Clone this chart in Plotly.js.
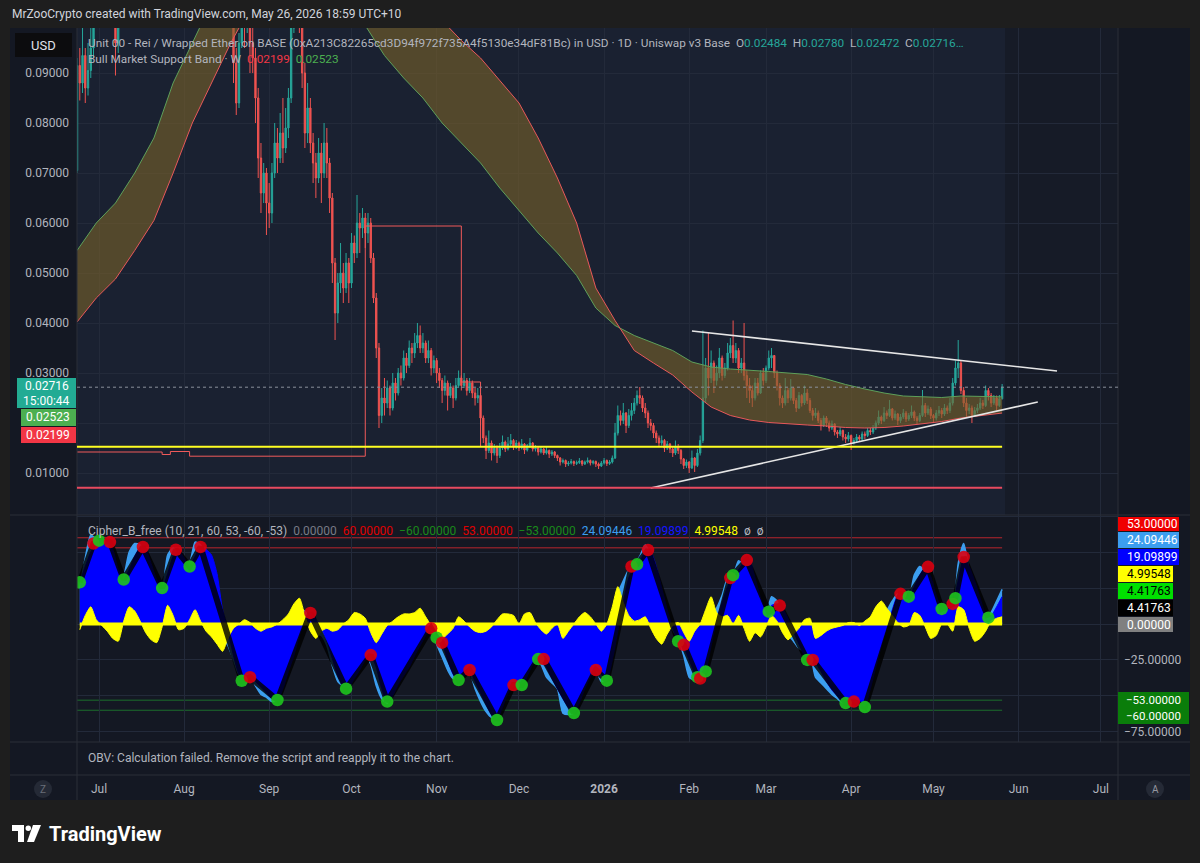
<!DOCTYPE html>
<html><head><meta charset="utf-8">
<script src="https://cdn.plot.ly/plotly-3.0.1.min.js"></script>
<style>html,body{margin:0;padding:0;background:#1e1e1e;overflow:hidden}#chart{width:1200px;height:863px}</style>
</head><body><div id="chart"></div>
<script>
// ---------------- DATA ----------------
const candleStart = '2025-06-23';
const firstOpen = 0.0705;
const closes = [
.0915,.0880,.0935,.0870,.0905,.0950,.1020,
.1080,.1150,.1120,.1200,.1180,.1100,.1150,
.0960,.1060,.1180,.1250,.1300,.1260,.1350,
.1400,.1450,.1380,.1500,.1550,.1480,.1600,
.1650,.1580,.1700,.1750,.1680,.1620,.1700,
.1640,.1580,.1500,.1550,.1480,.1420,.1460,
.1400,.1350,.1380,.1300,.1250,.1280,.1220,
.1180,.1200,.1150,.1100,.1130,.1080,.1100,
.1060,.0920,.0840,.0960,.1050,.1000,.1040,
.0960,.0930,.0850,.0730,.0660,.0700,.0640,
.0620,.0700,.0760,.0730,.0780,.0750,.0790,
.0850,.0990,.1050,.1080,.1040,.0900,.0780,
.0830,.0760,.0720,.0690,.0740,.0700,.0760,
.0720,.0650,.0520,.0420,.0480,.0500,.0470,
.0520,.0480,.0560,.0540,.0600,.0590,.0610,
.0580,.0600,.0530,.0450,.0350,.0215,.0250,
.0240,.0270,.0230,.0280,.0260,.0300,.0290,
.0330,.0315,.0350,.0340,.0360,.0375,.0350,
.0360,.0330,.0345,.0310,.0325,.0300,.0285,
.0265,.0280,.0255,.0270,.0250,.0275,.0290,
.0275,.0285,.0265,.0280,.0260,.0250,.0255,
.0210,.0170,.0145,.0160,.0140,.0150,.0135,
.0150,.0162,.0148,.0158,.0165,.0152,.0160,
.0150,.0158,.0146,.0155,.0160,.0148,.0150,
.0142,.0148,.0140,.0145,.0138,.0142,.0135,
.0130,.0122,.0125,.0118,.0120,.0123,.0119,
.0121,.0124,.0118,.0122,.0125,.0120,.0123,
.0118,.0114,.0120,.0125,.0119,.0122,.0130,
.0180,.0215,.0205,.0220,.0195,.0215,.0225,
.0240,.0255,.0250,.0230,.0220,.0200,.0195,
.0180,.0170,.0160,.0165,.0150,.0158,.0148,
.0140,.0152,.0145,.0128,.0115,.0122,.0110,
.0130,.0115,.0140,.0165,.0250,.0310,.0290,
.0320,.0285,.0300,.0330,.0295,.0310,.0340,
.0355,.0330,.0345,.0310,.0320,.0295,.0275,
.0265,.0250,.0280,.0260,.0300,.0285,.0310,
.0330,.0335,.0300,.0275,.0250,.0240,.0265,
.0250,.0270,.0245,.0230,.0255,.0240,.0260,
.0245,.0225,.0215,.0220,.0205,.0195,.0210,
.0200,.0190,.0198,.0182,.0178,.0185,.0172,
.0168,.0175,.0160,.0165,.0172,.0168,.0178,
.0175,.0185,.0182,.0190,.0200,.0212,.0205,
.0220,.0215,.0228,.0210,.0218,.0205,.0212,
.0220,.0208,.0215,.0222,.0210,.0205,.0215,
.0235,.0220,.0228,.0215,.0210,.0220,.0225,
.0218,.0230,.0225,.0240,.0280,.0310,.0320,
.0265,.0240,.0225,.0230,.0215,.0225,.0230,
.0240,.0235,.0265,.0255,.0240,.0250,.0235,
.02484,.02716];
const highs = [
.0930,.0950,.0990,.0950,.0960,.1010,.1080,
.1120,.1210,.1190,.1250,.1240,.1190,.1190,
.1160,.1100,.1210,.1290,.1340,.1330,.1380,
.1450,.1500,.1480,.1540,.1600,.1580,.1650,
.1700,.1680,.1750,.1800,.1780,.1720,.1740,
.1720,.1660,.1600,.1590,.1570,.1500,.1510,
.1480,.1420,.1410,.1390,.1310,.1320,.1300,
.1240,.1250,.1220,.1170,.1160,.1140,.1130,
.1120,.1080,.0950,.0980,.1080,.1070,.1070,
.1060,.0990,.0950,.0870,.0760,.0720,.0710,
.0680,.0720,.0800,.0790,.0820,.0850,.0830,
.0870,.1050,.1100,.1120,.1100,.1060,.0920,
.0880,.0850,.0780,.0740,.0770,.0760,.0800,
.0790,.0730,.0660,.0530,.0500,.0560,.0520,
.0540,.0530,.0580,.0575,.0656,.0620,.0630,
.0620,.0620,.0610,.0540,.0460,.0360,.0270,
.0290,.0285,.0275,.0300,.0290,.0310,.0315,
.0345,.0340,.0365,.0360,.0380,.0400,.0395,
.0380,.0365,.0365,.0350,.0335,.0330,.0310,
.0290,.0295,.0285,.0280,.0275,.0290,.0305,
.0295,.0300,.0290,.0290,.0285,.0270,.0270,
.0260,.0215,.0175,.0185,.0165,.0158,.0155,
.0160,.0175,.0165,.0172,.0178,.0168,.0166,
.0163,.0168,.0160,.0158,.0170,.0162,.0156,
.0152,.0153,.0150,.0152,.0147,.0146,.0144,
.0137,.0132,.0129,.0127,.0124,.0128,.0125,
.0125,.0130,.0126,.0125,.0131,.0127,.0126,
.0125,.0121,.0124,.0130,.0127,.0126,.0135,
.0200,.0235,.0225,.0240,.0222,.0228,.0240,
.0250,.0265,.0272,.0255,.0240,.0225,.0208,
.0200,.0185,.0175,.0175,.0168,.0164,.0160,
.0152,.0165,.0158,.0148,.0130,.0127,.0124,
.0145,.0132,.0148,.0175,.0385,.0330,.0380,
.0345,.0325,.0315,.0350,.0335,.0320,.0360,
.0370,.0405,.0360,.0350,.0330,.0400,.0305,
.0290,.0275,.0290,.0290,.0305,.0310,.0315,
.0345,.0350,.0335,.0305,.0280,.0255,.0290,
.0270,.0288,.0272,.0250,.0262,.0258,.0275,
.0268,.0250,.0230,.0230,.0225,.0210,.0215,
.0214,.0205,.0205,.0200,.0186,.0192,.0187,
.0178,.0182,.0177,.0170,.0178,.0176,.0183,
.0183,.0190,.0190,.0196,.0205,.0225,.0215,
.0232,.0225,.0246,.0230,.0225,.0220,.0218,
.0228,.0224,.0220,.0235,.0225,.0214,.0220,
.0266,.0240,.0235,.0232,.0218,.0226,.0234,
.0230,.0238,.0235,.0250,.0290,.0325,.0366,
.0325,.0272,.0250,.0238,.0235,.0232,.0238,
.0250,.0246,.0275,.0270,.0260,.0256,.0255,
.0256,.02780];
const lows = [
.0700,.0845,.0860,.0840,.0855,.0890,.0930,
.1000,.1050,.1070,.1100,.1080,.1060,.1070,
.0895,.0940,.1050,.1150,.1230,.1210,.1240,
.1320,.1370,.1340,.1370,.1470,.1430,.1460,
.1560,.1530,.1570,.1680,.1620,.1560,.1600,
.1590,.1520,.1460,.1480,.1420,.1380,.1400,
.1360,.1310,.1330,.1260,.1200,.1230,.1170,
.1130,.1150,.1090,.1060,.1080,.1040,.1050,
.1030,.0880,.0816,.0830,.0950,.0950,.0980,
.0900,.0900,.0800,.0690,.0620,.0640,.0576,
.0590,.0600,.0690,.0700,.0720,.0720,.0740,
.0770,.0840,.0980,.1020,.0980,.0870,.0750,
.0760,.0740,.0680,.0650,.0680,.0640,.0690,
.0690,.0620,.0480,.0366,.0400,.0460,.0440,
.0460,.0440,.0470,.0520,.0530,.0540,.0570,
.0550,.0560,.0520,.0440,.0330,.0190,.0200,
.0215,.0230,.0215,.0225,.0245,.0255,.0275,
.0285,.0300,.0310,.0320,.0330,.0350,.0340,
.0340,.0320,.0320,.0295,.0300,.0280,.0270,
.0240,.0255,.0225,.0250,.0230,.0245,.0270,
.0265,.0270,.0255,.0260,.0250,.0235,.0240,
.0195,.0160,.0128,.0140,.0125,.0135,.0120,
.0130,.0146,.0142,.0145,.0152,.0146,.0148,
.0144,.0147,.0138,.0143,.0150,.0143,.0143,
.0135,.0139,.0136,.0137,.0130,.0134,.0130,
.0124,.0115,.0119,.0112,.0114,.0117,.0114,
.0116,.0118,.0114,.0116,.0119,.0115,.0117,
.0112,.0108,.0112,.0117,.0114,.0116,.0119,
.0128,.0175,.0195,.0198,.0180,.0190,.0205,
.0218,.0235,.0238,.0222,.0210,.0190,.0185,
.0170,.0160,.0152,.0155,.0142,.0146,.0140,
.0132,.0136,.0138,.0118,.0108,.0110,.0100,
.0108,.0102,.0112,.0135,.0160,.0240,.0255,
.0280,.0260,.0275,.0290,.0285,.0290,.0305,
.0330,.0320,.0320,.0300,.0300,.0285,.0250,
.0240,.0232,.0245,.0255,.0258,.0275,.0280,
.0305,.0310,.0290,.0265,.0235,.0230,.0235,
.0240,.0245,.0238,.0222,.0228,.0233,.0236,
.0238,.0220,.0205,.0210,.0200,.0185,.0192,
.0192,.0183,.0186,.0175,.0170,.0174,.0165,
.0160,.0163,.0146,.0157,.0161,.0162,.0165,
.0168,.0172,.0176,.0178,.0186,.0196,.0198,
.0202,.0208,.0212,.0205,.0206,.0196,.0200,
.0208,.0202,.0204,.0210,.0204,.0198,.0202,
.0212,.0212,.0216,.0208,.0200,.0205,.0214,
.0210,.0214,.0218,.0220,.0235,.0275,.0290,
.0258,.0232,.0210,.0218,.0200,.0212,.0220,
.0226,.0228,.0232,.0245,.0232,.0236,.0225,
.0232,.02472];

// Bull Market Support Band (weekly)
const bandDates = ['2025-06-23','2025-06-30','2025-07-07','2025-07-14','2025-07-21','2025-07-28','2025-08-04','2025-08-11','2025-08-18','2025-08-25','2025-09-01','2025-09-08','2025-09-15','2025-09-22','2025-09-29','2025-10-06','2025-10-13','2025-10-20','2025-10-27','2025-11-03','2025-11-10','2025-11-17','2025-11-24','2025-12-01','2025-12-08','2025-12-15','2025-12-22','2025-12-29','2026-01-05','2026-01-12','2026-01-19','2026-01-26','2026-02-02','2026-02-09','2026-02-16','2026-02-23','2026-03-02','2026-03-09','2026-03-16','2026-03-23','2026-03-30','2026-04-06','2026-04-13','2026-04-20','2026-04-27','2026-05-04','2026-05-11','2026-05-18','2026-05-26'];
const bandEMA = [0.0545,0.0600,0.0640,0.0700,0.0770,0.0880,0.0960,0.1040,0.1100,0.1140,0.1150,0.1140,0.1110,0.1070,0.1030,0.0995,0.0935,0.0890,0.0850,0.0800,0.0760,0.0720,0.0670,0.0625,0.0580,0.0540,0.0495,0.0430,0.0395,0.0375,0.0360,0.0345,0.0322,0.0312,0.0308,0.0306,0.0303,0.0300,0.0297,0.0288,0.0277,0.0268,0.0260,0.0254,0.0252,0.0251,0.0254,0.0253,0.02523];
const bandSMA = [0.0402,0.0450,0.0488,0.0545,0.0605,0.0700,0.0800,0.0880,0.0960,0.1030,0.1080,0.1120,0.1140,0.1150,0.1140,0.1120,0.1100,0.1070,0.1040,0.1005,0.0965,0.0930,0.0885,0.0840,0.0770,0.0690,0.0600,0.0470,0.0405,0.0345,0.0320,0.0296,0.0262,0.0232,0.0215,0.0206,0.0201,0.0198,0.0196,0.0194,0.0191,0.0190,0.0191,0.0194,0.0198,0.0203,0.0210,0.0215,0.02199];

// red step indicator
const stepDates = ['2025-06-22','2025-07-24','2025-07-27','2025-08-03','2025-10-06','2025-11-10','2025-11-17'];
const stepValues = [0.0142,0.01370,0.0143,0.01336,0.0594,0.0282,0.0153];

// horizontal levels
const supportLevel = 0.01527;
const floorLevel = 0.00706;
const lastPrice = 0.02716;

// drawn trend lines
const trendUpperDates = ['2026-02-02','2026-06-15'];
const trendUpperValues = [0.0384,0.0304];
const trendLowerDates = ['2026-01-18','2026-06-08'];
const trendLowerValues = [0.0070,0.0242];

// Cipher B (sampled every 2 days from 2025-06-24)
const oscStart = '2025-06-24';
const wt2 = [29,40,50,56,58,57,52,38,31,38,
47,53,52,42,31,25,35,47,51,46,
40,47,53,52,48,35,10,-5,-22,-35,
-39,-37,-40,-44,-48,-52,-53,-45,-33,-22,
-8,3,7.5,3,-3,-12,-24,-36,-43,-44,
-38,-32,-25,-22,-30,-45,-54,-50,-42,-36,
-30,-22,-15,-8,-3,-8,-13,-25,-35,-39,
-36,-32,-40,-48,-56,-63,-66,-58,-48,-43,
-42,-40,-32,-25,-24,-30,-38,-45,-52,-58,
-62,-55,-45,-37,-32,-35,-39,-25,-5,15,
32,40,44,50,50,40,25,10,-3,-12,
-16,-25,-34,-38,-33,-15,3,15,26,34,
38,43,44,32,18,9,13,14,11,4,
-5,-14,-22,-25,-27,-33,-40,-46,-50,-54,
-55,-54,-56,-57,-45,-30,-15,-2,10,20,
20,19,26,34,39,33,20,11,12,15,
30,46,40,30,18,7,6,12,19.09899];
const vwap = [-4,6,12,3,-1,-5,-10,-12,2,12,
9,2,-6,-11,-13,-2,13,6,-4,-3,
3,10,2,-5,-9,-14,-19,-10,-3,0,
3,1,-3,-5,-3,-2,0,3,7,14,
18,6,-5,-10,-5,-3,-5,-4,0,3,
8,7,4,-6,-13,-7,-1,2,5,7,
7,8,11,5,-1,-6,-10,-7,-3,5,
2,-2,-5,-6,-5,-2,3,7,7,6,
0,7,8,1,-4,-7,-3,0,-10,-5,
0,5,8,5,0,-5,0,12,26,15,
6,2,3,5,-3,-10,-14,-7,-1,1,
-6,-12,-5,0,10,19,8,5,6,0,
6,-3,-12,-6,-9,-2,6,2,-6,-11,
-7,-3,3,4,-10,-8,-5,-3,-2,-1,
1,1,-1,2,5,12,16,11,6,1,
-2,-1,8,6,-2,-10,-8,0,0,-5,
12,10,-3,-12,-10,-5,2,4,4.99548];

// cross dots
const dotDates = ['2025-06-24','2025-06-29','2025-07-01','2025-07-05','2025-07-10','2025-07-17','2025-07-24','2025-07-29','2025-08-03','2025-08-07','2025-08-22','2025-08-25','2025-09-04','2025-09-16','2025-09-29','2025-10-08','2025-10-14','2025-10-30','2025-11-01','2025-11-03','2025-11-09','2025-11-13','2025-11-23','2025-11-29','2025-12-02','2025-12-08','2025-12-10','2025-12-21','2025-12-29','2026-01-02','2026-01-11','2026-01-13','2026-01-17','2026-01-28','2026-01-30','2026-02-04','2026-02-05','2026-02-07','2026-02-16','2026-02-17','2026-02-22','2026-03-02','2026-03-06','2026-03-16','2026-03-18','2026-03-30','2026-04-02','2026-04-06','2026-04-19','2026-04-22','2026-04-29','2026-05-04','2026-05-08','2026-05-09','2026-05-12','2026-05-21'];
const dotValues = [29,56,58,57,31,53.6,25,51.7,40,53.6,-39.5,-37,-52.9,7.7,-45,-21.6,-54,-3,-9.5,-13,-39,-32,-66.8,-42.5,-42.5,-24.4,-24.4,-62,-32,-39.4,40,41.5,51.5,-12,-14.5,-37,-38,-33,32,34,44.5,8.6,12.8,-25,-25,-55,-54,-57.8,21,19,39.8,10.5,14,18,46.6,4.41763];
const dotKinds = ['g','r','g','r','g','r','g','r','g','r','g','r','g','r','g','r','g','r','g','r','g','r','g','r','g','g','r','g','r','g','r','g','r','g','r','g','r','g','r','g','r','g','r','g','r','g','r','g','r','g','r','g','r','g','r','g'];

const monthTicks = ['2025-07-01','2025-08-01','2025-09-01','2025-10-01','2025-11-01','2025-12-01','2026-01-01','2026-02-01','2026-03-01','2026-04-01','2026-05-01','2026-06-01','2026-07-01'];
const monthLabels = ['Jul','Aug','Sep','Oct','Nov','Dec','<b>2026</b>','Feb','Mar','Apr','May','Jun','Jul'];
const priceTicks = [0.01,0.02,0.03,0.04,0.05,0.06,0.07,0.08,0.09];
const priceTickText = ['0.01000','','0.03000','0.04000','0.05000','0.06000','0.07000','0.08000','0.09000'];
const oscTicks = [-75,-50,-25,0,25,50,75];
const oscTickText = ['\u221275.00000','','\u221225.00000','','','',''];

// ---------------- BUILD ----------------
const W=1200,H=863;
const px=x=>x/W, py=y=>1-y/H;
function dayList(start,n,step){const t0=Date.parse(start+'T00:00:00Z');const o=[];for(let i=0;i<n;i++)o.push(new Date(t0+i*step*864e5).toISOString().slice(0,10));return o;}
const candleDates = dayList(candleStart, closes.length, 1);
const opens = closes.map((c,i)=>i===0?firstOpen:closes[i-1]);
const hi = highs.map((h,i)=>Math.max(h,opens[i],closes[i]));
const lo = lows.map((l,i)=>Math.min(l,opens[i],closes[i]));
const oscDates = dayList(oscStart, wt2.length, 2);
const wt1 = wt2.map((v,i)=>v+vwap[i]);
const lastDate = candleDates[candleDates.length-1];
const xRange = ['2025-06-22 23:38','2026-07-07 05:17'];

const FONT = 'Roboto, "Noto Sans", sans-serif';
const TXT = '#b2b5be';
const GRID = '#232a3a';

const traces = [
 {type:'scatter',mode:'lines',x:bandDates,y:bandEMA,line:{color:'#5ea05a',width:1},xaxis:'x',yaxis:'y',hoverinfo:'skip'},
 {type:'scatter',mode:'lines',x:bandDates,y:bandSMA,line:{color:'#e8585a',width:1},fill:'tonexty',fillcolor:'rgba(122,98,42,0.6)',xaxis:'x',yaxis:'y',hoverinfo:'skip'},
 {type:'scatter',mode:'lines',x:stepDates,y:stepValues,line:{color:'#f05a5a',width:1,shape:'hv'},xaxis:'x',yaxis:'y',hoverinfo:'skip'},
 {type:'candlestick',x:candleDates,open:opens,high:hi,low:lo,close:closes,xaxis:'x',yaxis:'y',
  increasing:{line:{color:'#26a69a',width:1},fillcolor:'#26a69a'},
  decreasing:{line:{color:'#ef5350',width:1},fillcolor:'#ef5350'},whiskerwidth:0,hoverinfo:'skip'},
 {type:'scatter',mode:'lines',x:trendUpperDates,y:trendUpperValues,line:{color:'#e6e6e6',width:1.6},xaxis:'x',yaxis:'y',hoverinfo:'skip'},
 {type:'scatter',mode:'lines',x:trendLowerDates,y:trendLowerValues,line:{color:'#e6e6e6',width:1.6},xaxis:'x',yaxis:'y',hoverinfo:'skip'},
 // oscillator
 {type:'scatter',mode:'lines',x:oscDates,y:wt1,fill:'tozeroy',fillcolor:'#3c9ef0',line:{color:'#3c9ef0',width:1.5,shape:'spline',smoothing:0.6},xaxis:'x2',yaxis:'y2',hoverinfo:'skip'},
 {type:'scatter',mode:'lines',x:oscDates,y:wt2,fill:'tozeroy',fillcolor:'#0000ff',line:{color:'#0000ff',width:1,shape:'spline',smoothing:0.6},xaxis:'x2',yaxis:'y2',hoverinfo:'skip'},
 {type:'scatter',mode:'lines',x:oscDates,y:vwap,fill:'tozeroy',fillcolor:'#ffff00',line:{color:'#ffff00',width:1,shape:'spline',smoothing:0.6},xaxis:'x2',yaxis:'y2',hoverinfo:'skip'},
 {type:'scatter',mode:'lines',x:[oscDates[0],lastDate],y:[0,0],line:{color:'#ffff00',width:3},xaxis:'x2',yaxis:'y2',hoverinfo:'skip'},
 {type:'scatter',mode:'lines',x:dotDates,y:dotValues,line:{color:'rgba(0,0,0,0.82)',width:6},xaxis:'x2',yaxis:'y2',hoverinfo:'skip'},
 {type:'scatter',mode:'markers',x:dotDates,y:dotValues,marker:{size:12.5,color:dotKinds.map(k=>k==='r'?'rgba(218,0,16,0.9)':'rgba(30,196,30,0.9)'),line:{width:0}},xaxis:'x2',yaxis:'y2',hoverinfo:'skip'},
 {type:'scatter',mode:'lines',x:[xRange[0]],y:[0],xaxis:'x3',yaxis:'y3',hoverinfo:'skip'}
];

const shapes = [];
function rectP(x0,y0,x1,y1,fill,layer){shapes.push({type:'rect',xref:'paper',yref:'paper',x0:px(x0),x1:px(x1),y0:py(y1),y1:py(y0),fillcolor:fill,line:{width:0},layer:layer||'below'});}
function lineP(x0,y0,x1,y1,col,w){shapes.push({type:'line',xref:'paper',yref:'paper',x0:px(x0),x1:px(x1),y0:py(y0),y1:py(y1),line:{color:col,width:w||1},layer:'above'});}
rectP(10,28,1190,800,'#141823');
rectP(77,28,1005,515,'#1a2131');
rectP(1005,28,1118,515,'#161b27');
lineP(10,515,1190,515,'#2a2e39');
lineP(10,742,1190,742,'#2a2e39');
lineP(10,775,1190,775,'#2a2e39');
lineP(77,28,77,800,'#2a2e39');
lineP(1118,28,1118,800,'#2a2e39');
// levels upper
shapes.push({type:'line',xref:'x',yref:'y',x0:xRange[0],x1:lastDate,y0:supportLevel,y1:supportLevel,line:{color:'#ffff22',width:2}});
shapes.push({type:'line',xref:'x',yref:'y',x0:xRange[0],x1:lastDate,y0:floorLevel,y1:floorLevel,line:{color:'#e84a5f',width:2}});
shapes.push({type:'line',xref:'x',yref:'y',x0:xRange[0],x1:xRange[1],y0:lastPrice,y1:lastPrice,line:{color:'#8a909c',width:1,dash:'dot'}});
// osc levels
[[60,'#b8262e'],[53,'#b8262e'],[-53,'#1c6e2c'],[-60,'#1c6e2c']].forEach(([v,c])=>{
 shapes.push({type:'line',xref:'x2',yref:'y2',x0:xRange[0],x1:lastDate,y0:v,y1:v,line:{color:c,width:1},layer:'below'});
});
// Z / A buttons
[[43,'Z'],[1155,'A']].forEach(([cx])=>{shapes.push({type:'circle',xref:'paper',yref:'paper',x0:px(cx-9),x1:px(cx+9),y0:py(798),y1:py(780),fillcolor:'#252a36',line:{width:0}});});
// TradingView logo
function pathP(pts){return 'M '+pts.map(p=>px(p[0])+' '+py(p[1])).join(' L ')+' Z';}
shapes.push({type:'path',xref:'paper',yref:'paper',path:pathP([[12,825],[24,825],[24,842],[18,842],[18,831],[12,831]]),fillcolor:'#ffffff',line:{width:0}});
shapes.push({type:'circle',xref:'paper',yref:'paper',x0:px(25.5),x1:px(31),y0:py(831),y1:py(825.5),fillcolor:'#ffffff',line:{width:0}});
shapes.push({type:'path',xref:'paper',yref:'paper',path:pathP([[33,825],[41,825],[34,842],[27,842]]),fillcolor:'#ffffff',line:{width:0}});

const ann = [];
function A(x,y,text,o){ann.push(Object.assign({xref:'paper',yref:'paper',x:px(x),y:py(y),text:text,showarrow:false,xanchor:'left',yanchor:'middle',font:{family:FONT,size:12,color:TXT}},o||{}));}
const sp='\u00a0\u00a0';
A(10,14,'MrZooCrypto created with TradingView.com, May 26, 2026 18:59 UTC+10',{font:{family:FONT,size:12,color:'#d1d4dc'}});
A(86,43,'Unit 00 - Rei / Wrapped Ether on BASE (0xA213C82265cd3D94f972f735A4f5130e34dF81Bc) in USD \u00b7 1D \u00b7 Uniswap v3 Base'+sp+'O<span style="color:#26a69a">0.02484</span>'+sp+'H<span style="color:#26a69a">0.02780</span>'+sp+'L<span style="color:#26a69a">0.02472</span>'+sp+'C<span style="color:#26a69a">0.02716\u2026</span>',{font:{family:FONT,size:11.8,color:TXT}});
A(86,59,'Bull Market Support Band \u00b7 W'+sp+'<span style="color:#f23645">0.02199</span>'+sp+'<span style="color:#4caf50">0.02523</span>',{font:{family:FONT,size:11.8,color:TXT}});
A(86,531,'Cipher_B_free (10, 21, 60, 53, -60, -53)'+sp+'<span style="color:#787b86">0.00000</span>'+sp+'<span style="color:#e00000">60.00000</span>'+sp+'<span style="color:#1a8a1a">\u221260.00000</span>'+sp+'<span style="color:#e00000">53.00000</span>'+sp+'<span style="color:#1a8a1a">\u221253.00000</span>'+sp+'<span style="color:#3c9ef0">24.09446</span>'+sp+'<span style="color:#1515ff">19.09899</span>'+sp+'<span style="color:#ffff00">4.99548</span>'+sp+'\u00f8'+sp+'\u00f8');
A(86,758,'OBV: Calculation failed. Remove the script and reapply it to the chart.');
// USD box
rectP(15,33,72,57,'#0c0c0e','above');
A(43.5,45,'USD',{xanchor:'center',font:{family:FONT,size:13,color:'#e0e3eb'}});
// left price boxes (fixed-size backgrounds + text)
rectP(17,378,76,408,'#22ab94','above');
rectP(21,409,76,426,'#4caf50','above');
rectP(21,427,76,443,'#f23645','above');
A(47,386,'0.02716',{xanchor:'center',font:{family:FONT,size:12,color:'#ffffff'}});
A(46,400.5,'15:00:44',{xanchor:'center',font:{family:FONT,size:12,color:'#ffffff'}});
A(48.5,417.5,'0.02523',{xanchor:'center',font:{family:FONT,size:12,color:'#ffffff'}});
A(48.5,435,'0.02199',{xanchor:'center',font:{family:FONT,size:12,color:'#ffffff'}});
// right osc boxes
[[517,531,1179,'53.00000','#f00000','#ffffff'],[532,548,1179,'24.09446','#3c9ef0','#ffffff'],[549,565,1179,'19.09899','#0000ff','#ffffff'],[566,582,1173,'4.99548','#ffff00','#000000'],[583,599,1173,'4.41763','#00e000','#000000'],[600,616,1173,'4.41763','#000000','#ffffff'],[617,632,1173,'0.00000','#808080','#ffffff']].forEach(([y0,y1,x1,t,bg,fc])=>{
 rectP(1118,y0,x1,y1,bg,'above');
 A(1125,(y0+y1)/2,t,{font:{family:FONT,size:12,color:fc}});
});
rectP(1118,692,1189,724,'#0a7d0a','above');
A(1124,700,'\u221253.00000',{font:{family:FONT,size:11.5,color:'#ffffff'}});
A(1124,716,'\u221260.00000',{font:{family:FONT,size:11.5,color:'#ffffff'}});
A(43,789,'Z',{xanchor:'center',font:{family:FONT,size:10,color:'#6a6f7a'}});
A(1155,789,'A',{xanchor:'center',font:{family:FONT,size:10,color:'#9598a1'}});
A(47,834,'<b>TradingView</b>',{font:{family:FONT,size:20,color:'#ffffff'}});

const xBase = {type:'date',range:xRange,domain:[px(77),px(1118)],tickvals:monthTicks,ticktext:monthLabels,showticklabels:false,showgrid:true,gridcolor:GRID,gridwidth:1,zeroline:false,showline:false,ticks:'',fixedrange:true};
const layout = {
 width:W,height:H,margin:{l:0,r:0,t:0,b:0},paper_bgcolor:'#1e1e1e',plot_bgcolor:'rgba(0,0,0,0)',showlegend:false,hovermode:false,
 font:{family:FONT,color:TXT,size:12},
 xaxis:Object.assign({},xBase,{anchor:'y',rangeslider:{visible:false}}),
 yaxis:{domain:[py(515),py(28)],anchor:'x',range:[0.0016,0.099],side:'left',tickvals:priceTicks,ticktext:priceTickText,showgrid:true,gridcolor:GRID,zeroline:false,ticks:'',tickfont:{family:FONT,size:12,color:TXT},ticklabelstandoff:7,fixedrange:true},
 xaxis2:Object.assign({},xBase,{anchor:'y2'}),
 yaxis2:{domain:[py(742),py(515)],anchor:'x2',range:[-82.1,75.85],side:'right',tickvals:oscTicks,ticktext:oscTickText,showgrid:true,gridcolor:GRID,zeroline:false,ticks:'',tickfont:{family:FONT,size:12,color:TXT},ticklabelstandoff:5,fixedrange:true},
 xaxis3:Object.assign({},xBase,{anchor:'y3',showticklabels:true,showgrid:false,tickfont:{family:FONT,size:12,color:TXT},ticklabelstandoff:5}),
 yaxis3:{domain:[py(775),py(742)],anchor:'x3',visible:false,range:[0,1],fixedrange:true},
 shapes:shapes,annotations:ann
};
Plotly.newPlot('chart',traces,layout,{staticPlot:true,displayModeBar:false});
</script></body></html>
